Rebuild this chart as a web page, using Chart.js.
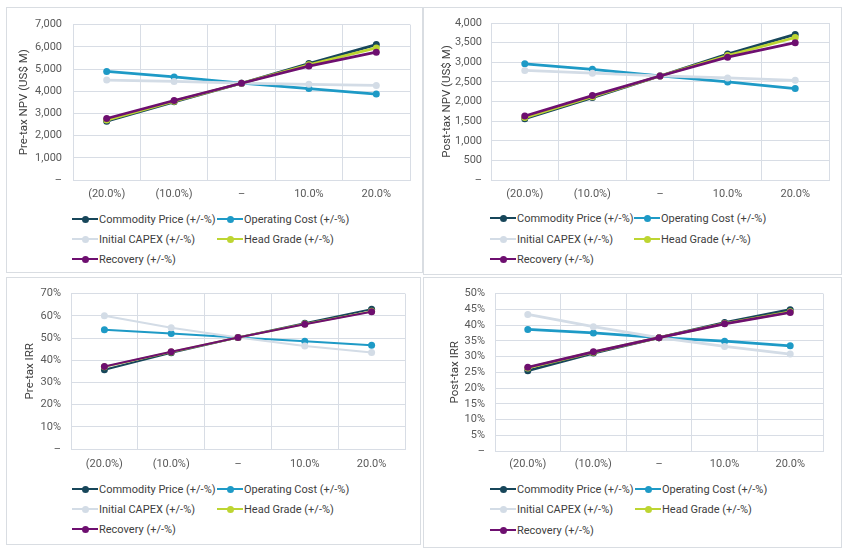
<!DOCTYPE html>
<html>
<head>
<meta charset="utf-8">
<script src="https://cdn.jsdelivr.net/npm/chart.js@4"></script>
<style>
  html, body { margin: 0; padding: 0; background: #fff; }
  #page { position: relative; width: 850px; height: 553px; overflow: hidden; font-family: Roboto, "Noto Sans", sans-serif; }
  .panel { position: absolute; border: 1px solid #d9dde2; box-sizing: border-box; }
  .panel canvas { position: absolute; left: 0; top: 0; }
  .leg { position: absolute; display: flex; align-items: center; height: 16px; font-size: 11px; color: #404040; white-space: nowrap; }
  .leg .sample { position: relative; width: 26px; margin-right: 1px; }
  .leg .dot { position: absolute; left: 9.5px; width: 7px; height: 7px; border-radius: 50%; }
</style>
</head>
<body>
<div id="page"></div>
<script>
// Catégories et séries
const categories = ['(20.0%)', '(10.0%)', '–', '10.0%', '20.0%'];
const seriesNames = ['Commodity Price (+/-%)', 'Operating Cost (+/-%)', 'Initial CAPEX (+/-%)', 'Head Grade (+/-%)', 'Recovery (+/-%)'];
const seriesColors = ['#17465a', '#1e9ac6', '#d3dce6', '#bdd532', '#6e0f70'];

// Pre-tax NPV (US$ M)
const preNpvCommodity = [2650, 3520, 4360, 5250, 6100];
const preNpvOpCost = [4890, 4640, 4360, 4120, 3870];
const preNpvCapex = [4500, 4440, 4360, 4310, 4260];
const preNpvHeadGrade = [2700, 3550, 4360, 5190, 5950];
const preNpvRecovery = [2770, 3580, 4360, 5130, 5760];

// Post-tax NPV (US$ M)
const postNpvCommodity = [1560, 2100, 2650, 3210, 3710];
const postNpvOpCost = [2960, 2820, 2650, 2500, 2330];
const postNpvCapex = [2790, 2720, 2650, 2600, 2540];
const postNpvHeadGrade = [1590, 2120, 2650, 3170, 3630];
const postNpvRecovery = [1630, 2150, 2650, 3130, 3500];

// Pre-tax IRR (%)
const preIrrCommodity = [35.7, 43.3, 50.2, 56.6, 63.0];
const preIrrOpCost = [53.7, 52.0, 50.2, 48.5, 46.7];
const preIrrCapex = [60.0, 54.6, 50.2, 46.4, 43.5];
const preIrrHeadGrade = [37.0, 43.7, 50.2, 56.3, 62.0];
const preIrrRecovery = [37.2, 43.8, 50.2, 56.2, 61.8];

// Post-tax IRR (%)
const postIrrCommodity = [25.5, 31.1, 36.0, 40.8, 44.9];
const postIrrOpCost = [38.6, 37.5, 36.0, 34.9, 33.4];
const postIrrCapex = [43.4, 39.5, 36.0, 33.2, 30.8];
const postIrrHeadGrade = [26.4, 31.4, 36.0, 40.5, 44.2];
const postIrrRecovery = [26.6, 31.5, 36.0, 40.4, 44.0];

// Axes
const preNpvAxis = { min: 0, max: 7000, step: 1000 };
const postNpvAxis = { min: 0, max: 4000, step: 500 };
const preIrrAxis = { min: 0, max: 70, step: 10 };
const postIrrAxis = { min: 0, max: 50, step: 5 };

const fmtNumber = v => v === 0 ? '–' : v.toLocaleString('en-US');
const fmtPercent = v => v === 0 ? '–' : v + '%';

// Mise en page des 4 panneaux (coordonnées de la page)
const panels = [
  {
    title: 'Pre-tax NPV (US$ M)', axis: preNpvAxis, fmt: fmtNumber, lineWidth: 2.75,
    series: [preNpvCommodity, preNpvOpCost, preNpvCapex, preNpvHeadGrade, preNpvRecovery],
    box: { x: 6, y: 7, w: 417, h: 266 }, area: { l: 73, r: 410, t: 23, b: 180 },
    labelY: 194, gapY: 11, titleX: 24, rows: [219, 239, 259], cols: [72, 217]
  },
  {
    title: 'Post-tax NPV (US$ M)', axis: postNpvAxis, fmt: fmtNumber, lineWidth: 2.75,
    series: [postNpvCommodity, postNpvOpCost, postNpvCapex, postNpvHeadGrade, postNpvRecovery],
    box: { x: 423, y: 7, w: 419, h: 268 }, area: { l: 491, r: 829, t: 23, b: 180 },
    labelY: 194, gapY: 9, titleX: 447, rows: [218, 239, 259], cols: [490, 634]
  },
  {
    title: 'Pre-tax IRR', axis: preIrrAxis, fmt: fmtPercent, lineWidth: 2,
    series: [preIrrCommodity, preIrrOpCost, preIrrCapex, preIrrHeadGrade, preIrrRecovery],
    box: { x: 6, y: 277, w: 415, h: 268 }, area: { l: 71, r: 405, t: 289, b: 449 },
    labelY: 464, gapY: 10, titleX: 30, rows: [489, 509, 529], cols: [72, 217]
  },
  {
    title: 'Post-tax IRR', axis: postIrrAxis, fmt: fmtPercent, lineWidth: 2.75,
    series: [postIrrCommodity, postIrrOpCost, postIrrCapex, postIrrHeadGrade, postIrrRecovery],
    box: { x: 423, y: 277, w: 419, h: 271 }, area: { l: 495, r: 823, t: 293, b: 451 },
    labelY: 464, gapY: 10, titleX: 455, rows: [489, 509, 530], cols: [490, 635]
  }
];

const page = document.getElementById('page');
const gridColor = '#d8dde5';
const tickFont = { family: 'Roboto', size: 11, lineHeight: 1.2 };
const titleFont = { family: 'Roboto', size: 11.5, lineHeight: 1.2 };

panels.forEach(p => {
  const div = document.createElement('div');
  div.className = 'panel';
  div.style.left = p.box.x + 'px';
  div.style.top = p.box.y + 'px';
  div.style.width = p.box.w + 'px';
  div.style.height = p.box.h + 'px';
  page.appendChild(div);

  const canvasH = p.labelY + 12 - p.box.y;
  const wrap = document.createElement('div');
  wrap.style.position = 'absolute';
  wrap.style.left = '-1px';
  wrap.style.top = '-1px';
  wrap.style.width = p.box.w + 'px';
  wrap.style.height = canvasH + 'px';
  const canvas = document.createElement('canvas');
  wrap.appendChild(canvas);
  div.appendChild(wrap);

  const yWidth = p.area.l - p.box.x;
  const xHeight = canvasH - (p.area.b - p.box.y);

  new Chart(canvas, {
    type: 'line',
    data: {
      labels: categories,
      datasets: p.series.map((values, i) => ({
        label: seriesNames[i],
        data: values,
        borderColor: seriesColors[i],
        backgroundColor: seriesColors[i],
        borderWidth: p.lineWidth,
        pointRadius: 3.5,
        pointBorderWidth: 0,
        pointHoverRadius: 3.5,
        fill: false,
        tension: 0,
        order: seriesNames.length - i
      }))
    },
    options: {
      responsive: true,
      maintainAspectRatio: false,
      animation: false,
      events: [],
      layout: {
        padding: { left: 0, top: p.area.t - p.box.y, right: p.box.x + p.box.w - p.area.r, bottom: 0 }
      },
      plugins: { legend: { display: false }, tooltip: { enabled: false } },
      scales: {
        x: {
          offset: true,
          grid: { offset: true, color: gridColor, drawTicks: false },
          border: { color: gridColor },
          ticks: { color: '#595959', font: tickFont, padding: p.labelY - p.area.b - 6.6, maxRotation: 0, autoSkip: false },
          afterFit: s => { s.height = xHeight; }
        },
        y: {
          min: p.axis.min,
          max: p.axis.max,
          grid: { color: gridColor, drawTicks: false },
          border: { display: false },
          ticks: { stepSize: p.axis.step, autoSkip: false, color: '#595959', font: tickFont, padding: p.gapY, callback: p.fmt },
          title: {
            display: true, text: p.title, color: '#404040', font: titleFont,
            padding: { top: p.titleX - p.box.x - 6.9, bottom: 0 }
          },
          afterFit: s => { s.width = yWidth; }
        }
      }
    }
  });

  // Légende HTML : 2 colonnes, 3 lignes
  seriesNames.forEach((name, i) => {
    const item = document.createElement('div');
    item.className = 'leg';
    item.style.left = (p.cols[i % 2] - p.box.x - 1) + 'px';
    item.style.top = (p.rows[Math.floor(i / 2)] - p.box.y - 9) + 'px';
    item.innerHTML = `<span class="sample" style="height:${p.lineWidth}px;background:${seriesColors[i]}">` +
      `<span class="dot" style="top:${(p.lineWidth - 7) / 2}px;background:${seriesColors[i]}"></span></span>` +
      `<span>${name}</span>`;
    div.appendChild(item);
  });
});
</script>
</body>
</html>
